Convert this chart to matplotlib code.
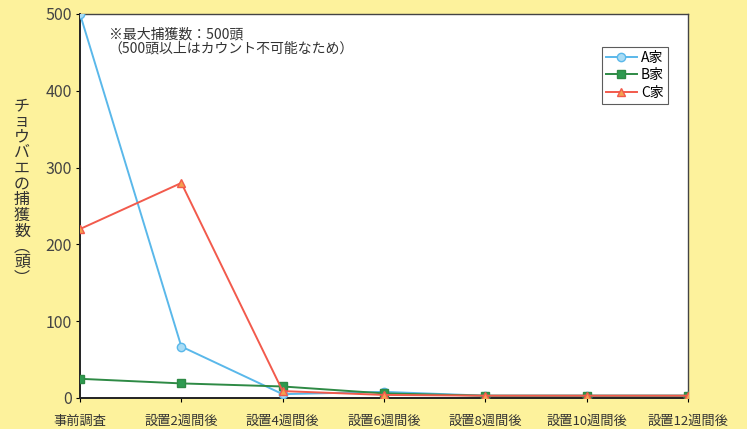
import matplotlib.pyplot as plt

plt.rcParams['font.family'] = ['Noto Sans CJK JP', 'DejaVu Sans']

# Survey points
periods = ['事前調査', '設置2週間後', '設置4週間後', '設置6週間後',
           '設置8週間後', '設置10週間後', '設置12週間後']

# Number of flies caught per household
house_a = [500, 67, 5, 8, 3, 3, 3]
house_b = [25, 19, 15, 6, 3, 3, 3]
house_c = [220, 280, 9, 4, 3, 3, 3]

y_ticks = [0, 100, 200, 300, 400, 500]

bg = '#fdf29c'
fig = plt.figure(figsize=(7.47, 4.29), dpi=100, facecolor=bg)
ax = fig.add_axes([80 / 747, 31 / 429, 608 / 747, 384 / 429])
ax.set_facecolor('white')

x = list(range(len(periods)))
ax.plot(x, house_a, color='#5ab8ea', lw=1.4, marker='o', ms=6,
        mfc='#a9dcf5', mec='#5ab8ea', label='A家', zorder=3)
ax.plot(x, house_b, color='#2e8a45', lw=1.4, marker='s', ms=5.5,
        mfc='#2e9a50', mec='#2e8a45', label='B家', zorder=3)
ax.plot(x, house_c, color='#f25a4c', lw=1.4, marker='^', ms=6,
        mfc='#f4a050', mec='#f25a4c', label='C家', zorder=3)

ax.set_xlim(0, 6)
ax.set_ylim(0, 500)
ax.set_xticks(x)
ax.set_xticklabels(periods, fontsize=9.5, color='#333333')
ax.set_yticks(y_ticks)
ax.set_yticklabels([str(v) for v in y_ticks], fontsize=11.5, color='#444444')
ax.tick_params(axis='y', length=3, direction='out', pad=3)
ax.tick_params(axis='x', length=3, direction='out', pad=9)

for side in ['left', 'bottom']:
    ax.spines[side].set_color('#222222')
    ax.spines[side].set_linewidth(1.4)
for side in ['top', 'right']:
    ax.spines[side].set_color('#444444')
    ax.spines[side].set_linewidth(1.0)

# vertical (upright stacked) y label
ylabel = 'チョウバエの捕獲数︵頭︶'
fig.text(22 / 747, 1 - 192 / 429, '\n'.join(ylabel), fontsize=11.5,
         ha='center', va='center', linespacing=0.9, color='#333333')

ax.text(0.047, 0.965, '※最大捕獲数：500頭\n（500頭以上はカウント不可能なため）',
        transform=ax.transAxes, fontsize=10, va='top', ha='left',
        color='#333333', linespacing=1.05)

leg = ax.legend(loc='upper right', bbox_to_anchor=(0.967, 0.915),
                fontsize=10, frameon=True, fancybox=False, handlelength=2.2,
                borderpad=0.3, labelspacing=0.25, handletextpad=0.3,
                borderaxespad=0)
leg.get_frame().set_edgecolor('#333333')
leg.get_frame().set_linewidth(0.8)

fig.savefig('out.png', dpi=100, facecolor=bg)
